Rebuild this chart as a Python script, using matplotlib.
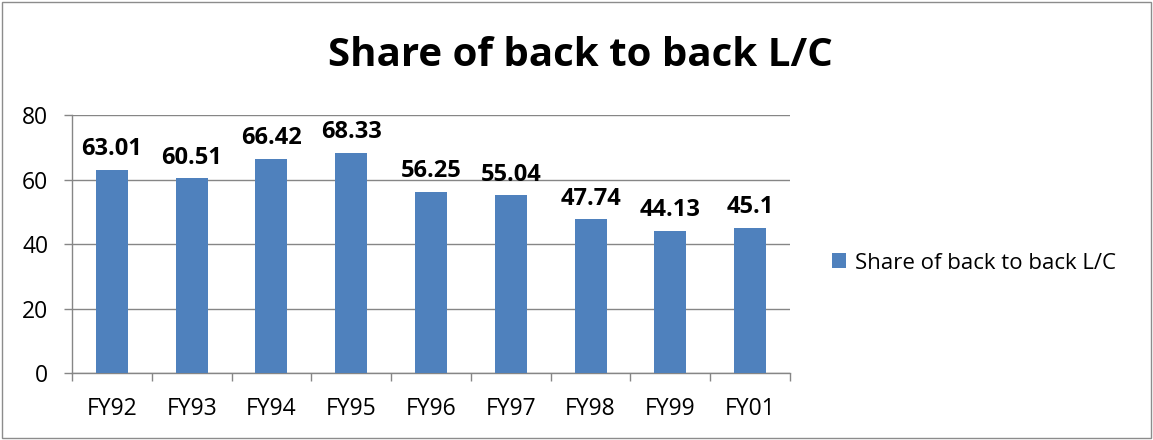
import matplotlib
matplotlib.use("Agg")
import matplotlib.pyplot as plt
from matplotlib.patches import Rectangle

categories = ["FY92", "FY93", "FY94", "FY95", "FY96", "FY97", "FY98", "FY99", "FY01"]
values = [63.01, 60.51, 66.42, 68.33, 56.25, 55.04, 47.74, 44.13, 45.1]
value_labels = ["63.01", "60.51", "66.42", "68.33", "56.25", "55.04", "47.74", "44.13", "45.1"]
series_name = "Share of back to back L/C"
title = "Share of back to back L/C"

plt.rcParams['font.family'] = ['Open Sans', 'DejaVu Sans']

fig = plt.figure(figsize=(11.53, 4.40), dpi=100)
fig.patches.append(Rectangle((2/1153, 2/440), 1 - 4/1153, 1 - 4/440, transform=fig.transFigure,
                             fill=False, edgecolor='#8c8c8c', linewidth=1.0))

ax = fig.add_axes([72/1153, 1 - 373/440, (790-72)/1153, (373-115)/440])
x = list(range(len(categories)))
bars = ax.bar(x, values, width=0.4, color='#4F81BD', label=series_name, zorder=3)
ax.set_xlim(-0.5, len(categories) - 0.5)
ax.set_ylim(0, 80)
ax.set_yticks([0, 20, 40, 60, 80])
ax.yaxis.grid(True, color='#868686', linewidth=1.0, zorder=0)
ax.set_axisbelow(True)
for s in ['top', 'right']:
    ax.spines[s].set_visible(False)
for s in ['left', 'bottom']:
    ax.spines[s].set_color('#868686')
    ax.spines[s].set_linewidth(1.0)
ax.set_xticks(x)
ax.set_xticklabels(categories)
ax.set_xticks([i - 0.5 for i in range(len(categories) + 1)], minor=True)
ax.tick_params(axis='x', which='major', length=0, pad=17, labelsize=16.5)
ax.tick_params(axis='x', which='minor', length=6, color='#868686', width=1.0)
ax.tick_params(axis='y', length=6, color='#868686', width=1.0, labelsize=16.5, pad=11)

for xi, v, lab in zip(x, values, value_labels):
    ax.annotate(lab, (xi, v), xytext=(0, 6), textcoords='offset points',
                ha='center', va='bottom', fontsize=17, fontweight='bold')

fig.text(580/1153, 1 - 55/440, title, ha='center', va='center', fontsize=29, fontweight='bold')

fig.legend(handles=[bars], labels=[series_name], loc='center left',
           bbox_to_anchor=(812/1153, 1 - 263/440), frameon=False, fontsize=16,
           handlelength=0.65, handleheight=0.65, handletextpad=0.4)

fig.savefig("out.png", dpi=100)
